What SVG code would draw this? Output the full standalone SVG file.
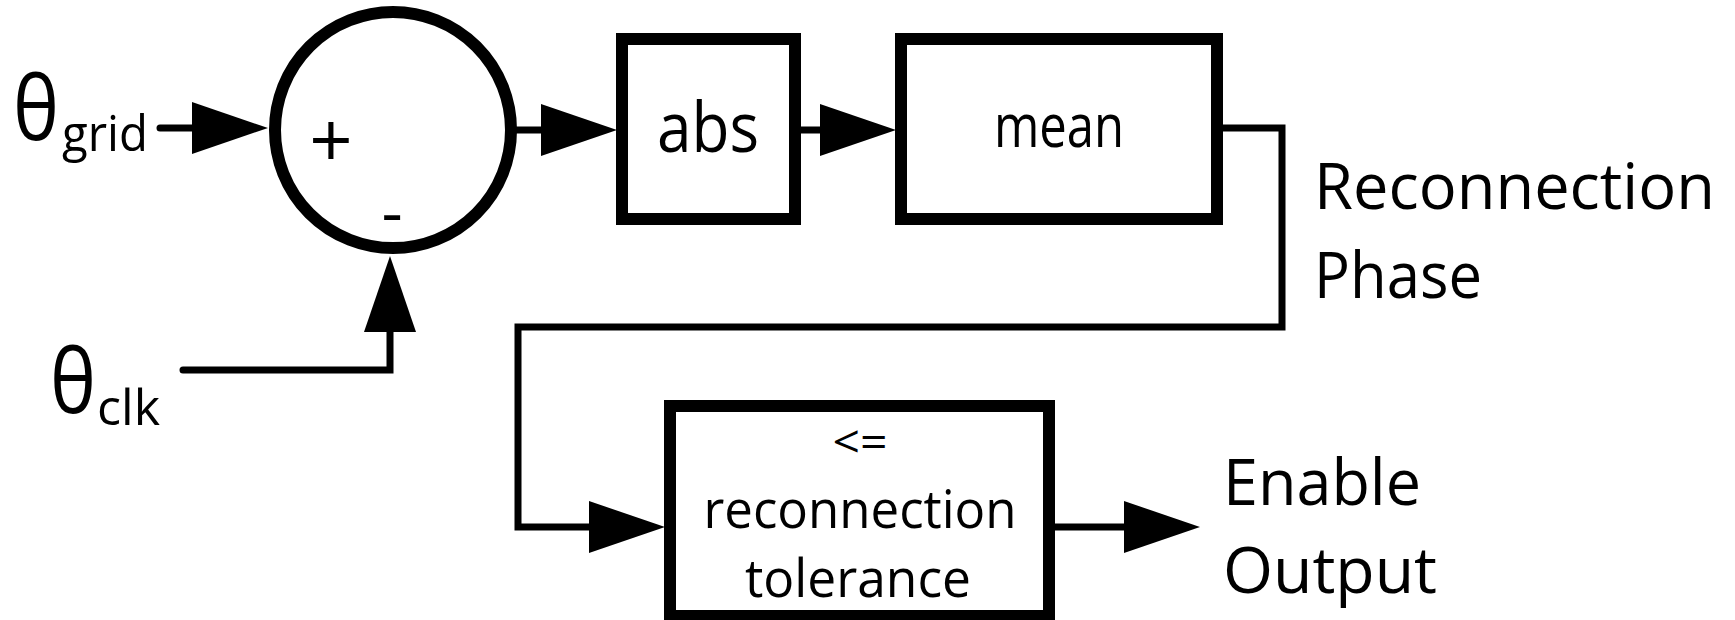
<svg xmlns="http://www.w3.org/2000/svg" width="1735" height="620" viewBox="0 0 1735 620">
  <style>
    .block { fill: #fff; stroke: #000; stroke-width: 12; }
    .wire { fill: none; stroke: #000; stroke-width: 7; stroke-linecap: round; stroke-linejoin: miter; }
    text { font-family: "Open Sans", "Liberation Sans", sans-serif; fill: #000; }
    .mid { text-anchor: middle; }
  </style>
  <defs>
    <marker id="head" markerUnits="userSpaceOnUse" viewBox="0 0 76 52" markerWidth="76" markerHeight="52" refX="0" refY="26" orient="auto">
      <path d="M0,0 L76,26 L0,52 Z" fill="#000"/>
    </marker>
  </defs>

  <rect width="1735" height="620" fill="#fff"/>

  <!-- connectors -->
  <g id="connectors">
    <path class="wire" d="M160,128 H192" marker-end="url(#head)"/>
    <path class="wire" d="M512,130 H541" marker-end="url(#head)"/>
    <path class="wire" d="M800,130 H820" marker-end="url(#head)"/>
    <path class="wire" d="M1222,128 H1282 V327 H518 V527 H589" marker-end="url(#head)"/>
    <path class="wire" d="M183,370 H390 V332" marker-end="url(#head)"/>
    <path class="wire" d="M1054,527 H1124" marker-end="url(#head)"/>
  </g>

  <!-- input: grid angle -->
  <g id="theta-grid">
    <text x="13" y="140" font-size="90" textLength="46" lengthAdjust="spacingAndGlyphs">θ</text>
    <text x="62" y="151" font-size="50" textLength="86" lengthAdjust="spacingAndGlyphs">grid</text>
  </g>

  <!-- input: clock angle -->
  <g id="theta-clk">
    <text x="50" y="413" font-size="90" textLength="46" lengthAdjust="spacingAndGlyphs">θ</text>
    <text x="97" y="425" font-size="50" textLength="63" lengthAdjust="spacingAndGlyphs">clk</text>
  </g>

  <!-- summing junction -->
  <g id="sum">
    <circle cx="393" cy="130" r="118" class="block"/>
    <text x="331" y="168" font-size="76" class="mid">+</text>
    <text x="392" y="235" font-size="66" class="mid">-</text>
  </g>

  <!-- absolute value -->
  <g id="abs">
    <rect x="622" y="39" width="173" height="180" class="block"/>
    <text x="708" y="152" font-size="70" class="mid" textLength="102" lengthAdjust="spacingAndGlyphs">abs</text>
  </g>

  <!-- mean -->
  <g id="mean">
    <rect x="901" y="39" width="316" height="180" class="block"/>
    <text x="1059" y="147" font-size="61" class="mid" textLength="130" lengthAdjust="spacingAndGlyphs">mean</text>
  </g>

  <!-- reconnection phase label -->
  <g id="reconnection-phase">
    <text x="1314" y="209" font-size="64" textLength="401" lengthAdjust="spacingAndGlyphs">Reconnection</text>
    <text x="1314" y="298" font-size="64" textLength="168" lengthAdjust="spacingAndGlyphs">Phase</text>
  </g>

  <!-- tolerance comparison -->
  <g id="compare">
    <rect x="670" y="406" width="379" height="210" class="block"/>
    <text x="860" y="458" font-size="46" class="mid" textLength="55" lengthAdjust="spacingAndGlyphs">&lt;=</text>
    <text x="860" y="528" font-size="53" class="mid" textLength="313" lengthAdjust="spacingAndGlyphs">reconnection</text>
    <text x="858" y="597" font-size="53" class="mid" textLength="226" lengthAdjust="spacingAndGlyphs">tolerance</text>
  </g>

  <!-- enable output label -->
  <g id="enable-output">
    <text x="1223" y="505" font-size="64" textLength="198" lengthAdjust="spacingAndGlyphs">Enable</text>
    <text x="1223" y="593" font-size="64" textLength="214" lengthAdjust="spacingAndGlyphs">Output</text>
  </g>
</svg>
